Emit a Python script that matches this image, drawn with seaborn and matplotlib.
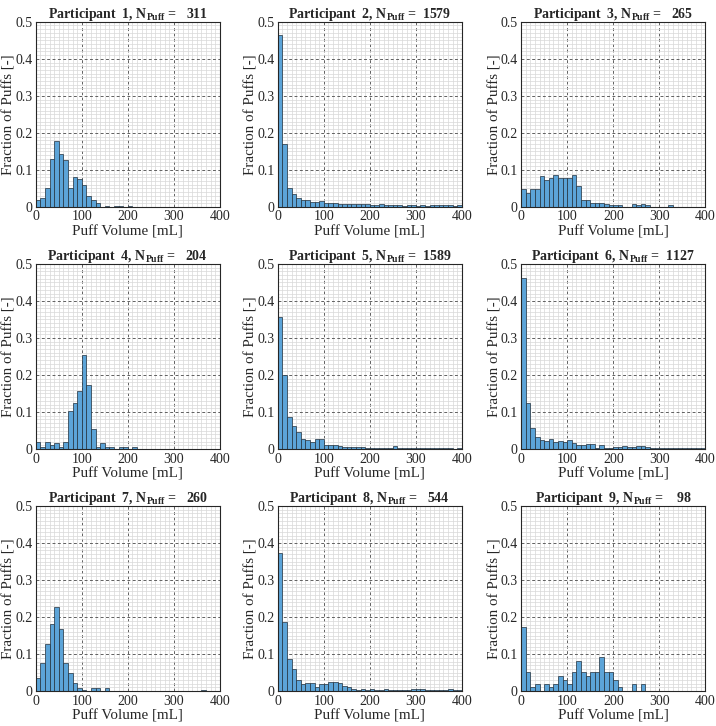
"""
Puff volume distributions per participant (3x3 histogram grid)
"""

import matplotlib
matplotlib.use('Agg')
import matplotlib.pyplot as plt
import seaborn as sns
import numpy as np
import pandas as pd
from matplotlib.ticker import MultipleLocator

sns.set_style('white')
plt.rcParams['font.family'] = ['Liberation Serif', 'DejaVu Serif']
plt.rcParams['mathtext.fontset'] = 'custom'
plt.rcParams['mathtext.rm'] = 'Liberation Serif'
plt.rcParams['mathtext.bf'] = 'Liberation Serif:bold'

# bins: 10 mL wide, 0-400 mL
bin_width = 10
bin_range = (0, 400)
bin_centers = np.arange(5, 400, 10)

participants = [1, 2, 3, 4, 5, 6, 7, 8, 9]
n_puffs = [311, 1579, 265, 204, 1589, 1127, 260, 544, 98]

# fraction of puffs per bin (trailing zeros omitted)
frac_p1 = [0.018, 0.025, 0.050, 0.130, 0.177, 0.142, 0.126, 0.050, 0.080, 0.075,
           0.060, 0.030, 0.020, 0.010, 0.000, 0.003, 0.000, 0.003, 0.003, 0.000,
           0.003]
frac_p2 = [0.463, 0.170, 0.050, 0.035, 0.025, 0.020, 0.018, 0.014, 0.014, 0.016,
           0.010, 0.010, 0.010, 0.009, 0.009, 0.009, 0.008, 0.008, 0.009, 0.008,
           0.006, 0.006, 0.007, 0.005, 0.004, 0.004, 0.006, 0.003, 0.004, 0.004,
           0.003, 0.006, 0.003, 0.004, 0.004, 0.004, 0.004, 0.004, 0.003, 0.005]
frac_p3 = [0.048, 0.038, 0.049, 0.049, 0.083, 0.072, 0.079, 0.087, 0.079, 0.079,
           0.079, 0.087, 0.057, 0.019, 0.019, 0.011, 0.011, 0.011, 0.008, 0.004,
           0.004, 0.004, 0.000, 0.000, 0.008, 0.004, 0.008, 0.004, 0.000, 0.000,
           0.000, 0.000, 0.004]
frac_p4 = [0.020, 0.005, 0.020, 0.010, 0.015, 0.005, 0.020, 0.103, 0.123, 0.157,
           0.255, 0.172, 0.054, 0.005, 0.015, 0.005, 0.005, 0.000, 0.005, 0.005,
           0.000, 0.005]
frac_p5 = [0.356, 0.199, 0.087, 0.061, 0.047, 0.028, 0.025, 0.020, 0.028, 0.026,
           0.010, 0.012, 0.010, 0.009, 0.006, 0.005, 0.006, 0.006, 0.005, 0.004,
           0.003, 0.003, 0.003, 0.003, 0.004, 0.008, 0.002, 0.002, 0.003, 0.003,
           0.003, 0.003, 0.002, 0.002, 0.002, 0.002, 0.002, 0.002, 0.001, 0.002]
frac_p6 = [0.462, 0.125, 0.057, 0.032, 0.025, 0.022, 0.026, 0.020, 0.022, 0.020,
           0.025, 0.016, 0.012, 0.012, 0.013, 0.014, 0.004, 0.010, 0.004, 0.003,
           0.005, 0.005, 0.008, 0.006, 0.005, 0.007, 0.007, 0.006, 0.003, 0.002,
           0.003, 0.002, 0.003, 0.002, 0.003, 0.003, 0.002, 0.002, 0.003, 0.003]
frac_p7 = [0.035, 0.077, 0.127, 0.181, 0.227, 0.169, 0.077, 0.050, 0.023, 0.008,
           0.004, 0.000, 0.008, 0.008, 0.000, 0.008, 0.000, 0.000, 0.000, 0.000,
           0.000, 0.000, 0.000, 0.000, 0.000, 0.000, 0.000, 0.000, 0.000, 0.000,
           0.000, 0.000, 0.000, 0.000, 0.000, 0.000, 0.004]
frac_p8 = [0.373, 0.186, 0.086, 0.059, 0.031, 0.020, 0.022, 0.022, 0.011, 0.018,
           0.020, 0.024, 0.024, 0.022, 0.015, 0.011, 0.006, 0.004, 0.006, 0.002,
           0.007, 0.004, 0.002, 0.006, 0.004, 0.002, 0.002, 0.002, 0.002, 0.006,
           0.007, 0.006, 0.004, 0.002, 0.002, 0.002, 0.002, 0.006, 0.002, 0.002]
frac_p9 = [0.173, 0.051, 0.010, 0.020, 0.000, 0.020, 0.010, 0.020, 0.041, 0.031,
           0.020, 0.051, 0.082, 0.051, 0.041, 0.051, 0.051, 0.092, 0.051, 0.051,
           0.031, 0.010, 0.000, 0.000, 0.020, 0.000, 0.020]

fractions = [frac_p1, frac_p2, frac_p3, frac_p4, frac_p5,
             frac_p6, frac_p7, frac_p8, frac_p9]

bar_color = '#5ca4d8'

fig = plt.figure(figsize=(7.16, 7.26), dpi=100)

col_left = [0.050, 0.388, 0.728]
row_bottom = [0.715, 0.3815, 0.048]
ax_w, ax_h = 0.257, 0.255

for i, (pid, n, frac) in enumerate(zip(participants, n_puffs, fractions)):
    r, c = divmod(i, 3)
    ax = fig.add_axes([col_left[c], row_bottom[r], ax_w, ax_h])

    frac_full = np.zeros(len(bin_centers))
    frac_full[:len(frac)] = frac
    df = pd.DataFrame({'volume': bin_centers, 'fraction': frac_full})

    sns.histplot(data=df, x='volume', weights='fraction', binwidth=bin_width,
                 binrange=bin_range, ax=ax, color=bar_color, alpha=1.0,
                 edgecolor='#22303c', linewidth=0.5)

    ax.set_xlim(0, 400)
    ax.set_ylim(0, 0.5)
    ax.xaxis.set_major_locator(MultipleLocator(100))
    ax.xaxis.set_minor_locator(MultipleLocator(10))
    ax.yaxis.set_minor_locator(MultipleLocator(0.01))
    ax.set_yticks(np.arange(0, 0.51, 0.1))
    ax.set_yticklabels(['0', '0.1', '0.2', '0.3', '0.4', '0.5'])

    ax.set_axisbelow(True)
    ax.grid(which='minor', color='#d8d8d8', linestyle='-', linewidth=0.5)
    ax.grid(which='major', color='#606060', linestyle=(0, (3, 2.5)), linewidth=0.7)
    ax.tick_params(which='both', direction='in', length=0, labelsize=10,
                   colors='#262626', pad=2.5)
    for sp in ax.spines.values():
        sp.set_color('#262626')
        sp.set_linewidth(0.8)

    ax.set_xlabel('Puff Volume [mL]', fontsize=10.8, color='#262626', labelpad=1)
    ax.set_ylabel('Fraction of Puffs [-]', fontsize=10.8, color='#262626', labelpad=-0.5)
    ax.set_title(r'Participant %2d, N$_{\mathbf{Puff}}$ = %5d' % (pid, n),
                 fontsize=10, fontweight='bold', pad=3)

plt.savefig('out.png', dpi=100)
plt.close()
